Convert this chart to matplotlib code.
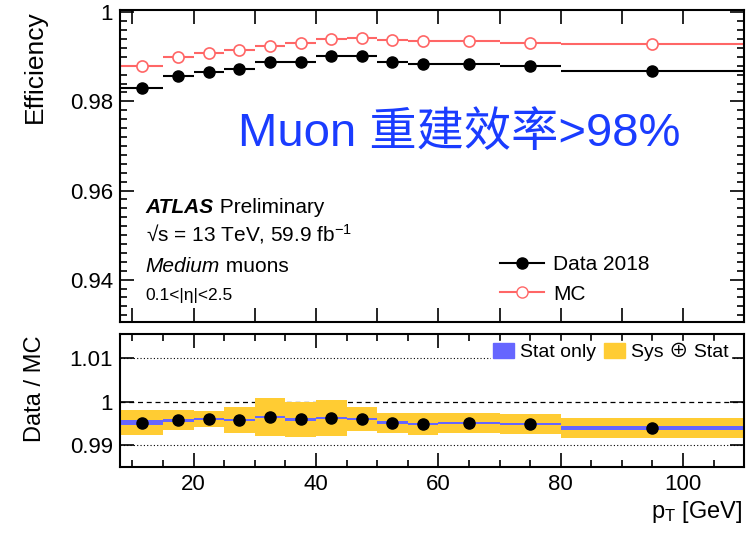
import numpy as np
import matplotlib
matplotlib.use("Agg")
from matplotlib import pyplot as plt
from matplotlib.patches import Patch
from matplotlib.lines import Line2D
from matplotlib.ticker import MultipleLocator, FuncFormatter

plt.rcParams['font.family'] = ['Liberation Sans', 'Noto Sans CJK SC', 'DejaVu Sans']
plt.rcParams['mathtext.fontset'] = 'custom'
plt.rcParams['mathtext.rm'] = 'Liberation Sans'
plt.rcParams['mathtext.it'] = 'Liberation Sans:italic'

# pT bins (GeV)
pt_edges = [8, 15, 20, 25, 30, 35, 40, 45, 50, 55, 60, 70, 80, 110]

# efficiencies
eff_data = [0.9831, 0.9856, 0.9866, 0.9873, 0.9888, 0.9889, 0.9902,
            0.9901, 0.9888, 0.9883, 0.9885, 0.9879, 0.9868]
eff_mc = [0.9879, 0.9900, 0.9908, 0.9915, 0.9925, 0.9932, 0.9941,
          0.9943, 0.9937, 0.9935, 0.9935, 0.9930, 0.9929]

# data / MC with uncertainties
ratio = [0.9952, 0.9957, 0.9960, 0.9958, 0.9965, 0.9959, 0.9962,
         0.9960, 0.9952, 0.9949, 0.9951, 0.9949, 0.9940]
err_stat = [0.0005, 0.0003, 0.0003, 0.0003, 0.0003, 0.0003, 0.0003,
            0.0003, 0.0003, 0.0003, 0.0003, 0.0003, 0.0004]
err_tot = [0.0029, 0.0023, 0.0018, 0.0030, 0.0043, 0.0040, 0.0042,
           0.0028, 0.0023, 0.0025, 0.0023, 0.0023, 0.0023]

edges = np.array(pt_edges, dtype=float)
xc = 0.5 * (edges[1:] + edges[:-1])
xw = edges[1:] - edges[:-1]
eff_data = np.array(eff_data)
eff_mc = np.array(eff_mc)
ratio = np.array(ratio)
err_stat = np.array(err_stat)
err_tot = np.array(err_tot)

red = '#ff6666'

fig = plt.figure(figsize=(7.51, 5.36), dpi=100)
ax = fig.add_axes([0.160, 0.3993, 0.831, 0.582])
rax = fig.add_axes([0.160, 0.1287, 0.831, 0.2481])

# top panel
ax.errorbar(xc, eff_mc, xerr=xw / 2, fmt='o', color=red, mfc='white', mec=red,
            ms=8, mew=1.2, elinewidth=1.5, capsize=0)
ax.errorbar(xc, eff_data, xerr=xw / 2, fmt='o', color='black', ms=8,
            elinewidth=1.5, capsize=0)
ax.set_xlim(8, 110)
ax.set_ylim(0.9305, 1.0005)
ax.xaxis.set_major_locator(MultipleLocator(10))
ax.yaxis.set_major_locator(MultipleLocator(0.02))
ax.yaxis.set_minor_locator(MultipleLocator(0.002))
ax.set_xticklabels([])
ax.yaxis.set_major_formatter(FuncFormatter(lambda v, p: '%g' % round(v, 4)))

ax.text(27.3, 0.9726, 'Muon 重建效率>98%', color='#1a3cff', fontsize=34,
        ha='left', va='center')

t1 = ax.text(0.041, 0.335, 'ATLAS', transform=ax.transAxes, fontsize=15,
             fontweight='bold', fontstyle='italic', va='bottom')
ax.annotate(' Preliminary', xy=(1, 0), xycoords=t1, fontsize=15, va='bottom')
ax.text(0.041, 0.245, '√s = 13 TeV, 59.9 fb$^{-1}$', transform=ax.transAxes,
        fontsize=15, va='bottom')
t2 = ax.text(0.041, 0.148, 'Medium', transform=ax.transAxes, fontsize=15,
             fontstyle='italic', va='bottom')
ax.annotate(' muons', xy=(1, 0), xycoords=t2, fontsize=15, va='bottom')
ax.text(0.041, 0.06, '0.1<|η|<2.5', transform=ax.transAxes, fontsize=12.5,
        va='bottom')

handles = [Line2D([], [], color='black', marker='o', ms=8, lw=1.5),
           Line2D([], [], color=red, marker='o', ms=8, mfc='white', lw=1.5)]
ax.legend(handles, ['Data 2018', 'MC'], loc='lower left', bbox_to_anchor=(0.592, 0.025),
          frameon=False, fontsize=15, handlelength=2.1, handletextpad=0.45,
          labelspacing=0.5, borderpad=0)

# ratio panel
rax.bar(xc, 2 * err_tot, bottom=ratio - err_tot, width=xw, color='#ffcc33', lw=0)
rax.bar(xc, 2 * err_stat, bottom=ratio - err_stat, width=xw, color='#6666ff', lw=0)
rax.plot(xc, ratio, 'o', color='black', ms=8)
rax.axhline(1.01, color='black', lw=0.8, ls=(0, (1, 2)), zorder=0.5)
rax.axhline(1.0, color='black', lw=0.9, ls=(0, (4, 3)), zorder=0.5)
rax.axhline(0.99, color='black', lw=0.8, ls=(0, (1, 2)), zorder=0.5)
rax.set_xlim(8, 110)
rax.set_ylim(0.985, 1.0155)
rax.xaxis.set_major_locator(MultipleLocator(20))
rax.xaxis.set_minor_locator(MultipleLocator(5))
rax.yaxis.set_major_locator(MultipleLocator(0.01))
rax.yaxis.set_major_formatter(FuncFormatter(lambda v, p: '%g' % round(v, 4)))

leg = rax.legend([Patch(color='#6666ff'), Patch(color='#ffcc33')],
                 ['Stat only', 'Sys ⊕ Stat'], ncol=2, loc='upper right',
                 bbox_to_anchor=(0.978, 0.95), frameon=True, fancybox=False,
                 fontsize=14, handlelength=1.1, handleheight=0.8, handletextpad=0.3,
                 columnspacing=0.4, borderpad=0.1, borderaxespad=0)
leg.get_frame().set_facecolor('white')
leg.get_frame().set_edgecolor('white')
leg.get_frame().set_alpha(1)

for a in (ax, rax):
    a.tick_params(which='both', direction='in', top=True, right=True,
                  labelsize=16, width=1.2, pad=5)
    a.tick_params(which='major', length=10)
    a.tick_params(which='minor', length=5)
    for s in a.spines.values():
        s.set_linewidth(1.5)

fig.text(0.047, 1 - 10 / 536, 'Efficiency', rotation=90, ha='center', va='top', fontsize=19)
fig.text(0.047, 1 - 335 / 536, 'Data / MC', rotation=90, ha='center', va='top', fontsize=17)
fig.text(0.988, 0.045, r'p$_{\mathregular{T}}$ [GeV]', ha='right', va='center', fontsize=17)

fig.savefig('out.png', dpi=100)
